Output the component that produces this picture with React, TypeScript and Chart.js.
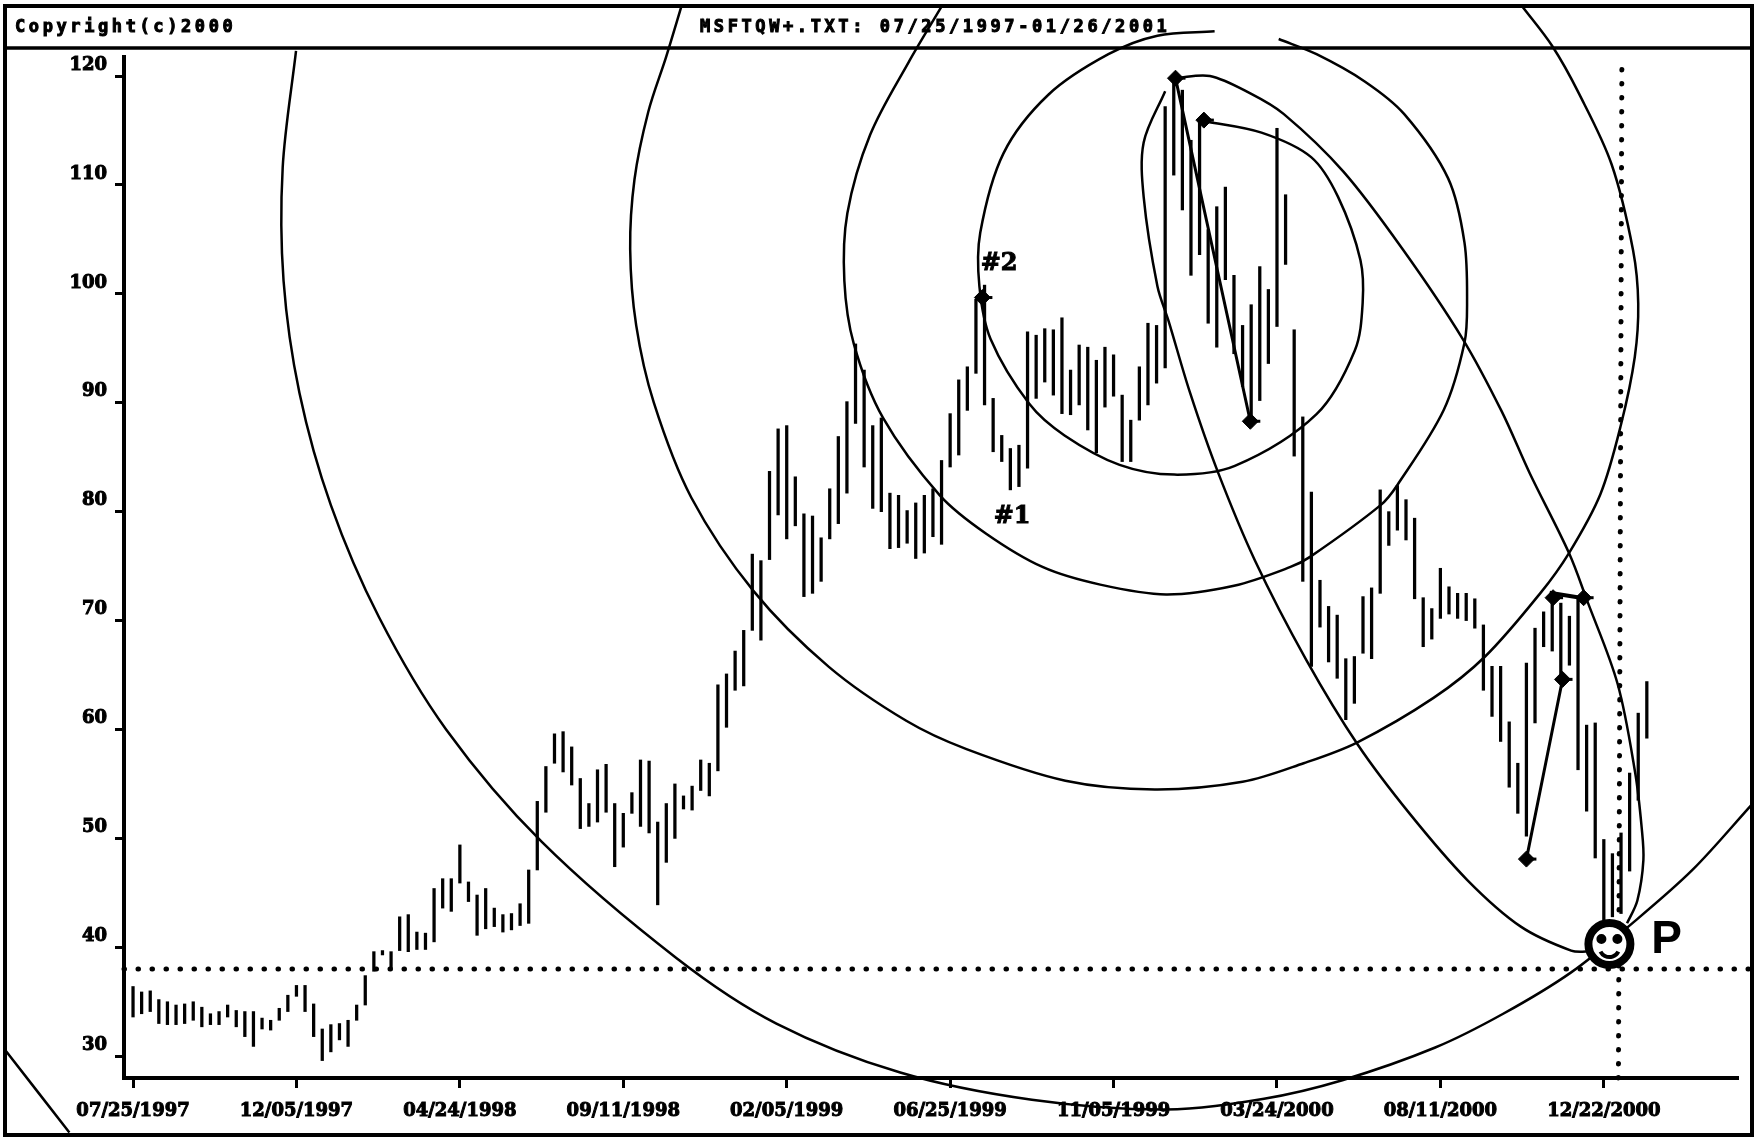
import React, { useEffect, useRef } from "react";
import { Chart, registerables } from "chart.js";

Chart.register(...registerables);

const headerLeft = "Copyright(c)2000";
const headerCenter = "MSFTQW+.TXT: 07/25/1997-01/26/2001";
const xTickBars = [0, 19, 38, 57, 76, 95, 114, 133, 152, 171];
const xTickLabels = ["07/25/1997", "12/05/1997", "04/24/1998", "09/11/1998", "02/05/1999", "06/25/1999", "11/05/1999", "03/24/2000", "08/11/2000", "12/22/2000"];
const yTickValues = [30, 40, 50, 60, 70, 80, 90, 100, 110, 120];

const highs = [
  36.4, 35.9, 36.0, 35.2, 35.0, 34.7, 34.8, 35.0, 34.5, 33.9,
  34.1, 34.7, 34.2, 34.1, 34.1, 33.5, 33.3, 34.4, 35.6, 36.5,
  36.5, 34.8, 32.5, 32.9, 33.0, 33.3, 34.7, 37.4, 39.6, 39.7,
  39.6, 42.8, 43.0, 41.4, 41.3, 45.4, 46.3, 46.3, 49.4, 46.0,
  44.8, 45.4, 43.6, 43.0, 43.1, 44.0, 47.1,
  53.4, 56.6, 59.6, 59.8, 58.4, 55.5, 53.2, 56.3, 56.8, 53.2,
  52.3, 54.2, 57.2, 57.1, 51.5, 53.2, 55.0, 53.9, 54.8, 57.2,
  56.9, 64.1, 65.1, 67.2, 69.1, 76.1, 75.5, 83.7, 87.6, 87.9,
  83.2, 79.8, 79.6, 77.6, 82.1, 86.9, 90.1, 95.4, 93.0, 87.9,
  88.6, 81.7, 81.5, 80.1, 80.8, 81.5, 82.1, 84.7, 89.0, 92.1,
  93.3, 99.5, 100.8, 90.4, 87.0, 85.8, 86.1, 96.5, 96.2, 96.8,
  96.7, 97.8, 93.0, 95.3, 95.1, 93.9, 95.1, 94.4, 90.7, 88.4,
  93.3, 97.3, 97.1, 117.2, 119.6, 118.7, 114.1, 116.0, 105.9, 108.0,
  109.8, 101.7, 97.1, 99.0, 102.5, 100.4, 115.2, 109.1, 96.7, 88.7,
  81.8, 73.7, 71.3, 70.5, 66.5, 66.7, 72.2, 73.0, 82.0, 80.0,
  82.4, 81.1, 79.4, 72.1, 71.1, 74.8, 73.1, 72.5, 72.5, 72.0,
  69.6, 65.8, 65.8, 60.7, 56.9, 66.1, 69.3, 70.8, 71.6, 71.6,
  70.4, 72.2, 60.4, 60.6, 49.9, 48.6, 50.5, 56.0, 61.5, 64.4,
];
const lows = [
  33.6, 33.9, 34.1, 33.0, 32.9, 32.9, 33.0, 33.3, 32.7, 32.9,
  32.9, 33.6, 32.7, 31.8, 30.9, 32.5, 32.4, 33.3, 34.1, 35.5,
  34.1, 31.8, 29.6, 30.4, 31.5, 30.9, 33.3, 34.7, 37.8, 39.3,
  38.1, 39.7, 39.6, 39.8, 39.8, 40.5, 43.6, 43.3, 45.9, 44.2,
  41.1, 41.7, 41.9, 41.4, 41.6, 42.0, 42.2,
  47.1, 52.4, 56.9, 56.1, 54.9, 50.9, 51.1, 51.5, 52.4, 47.4,
  49.2, 52.3, 51.1, 50.5, 43.9, 47.8, 50.0, 52.7, 52.6, 54.4,
  53.9, 56.2, 60.2, 63.6, 64.0, 69.1, 68.2, 75.6, 79.7, 77.5,
  78.7, 72.2, 72.5, 73.6, 77.5, 78.9, 81.7, 88.1, 84.1, 80.3,
  80.0, 76.6, 76.7, 77.1, 75.7, 76.2, 77.7, 77.0, 84.1, 85.2,
  89.3, 92.7, 89.8, 85.5, 84.6, 82.0, 82.3, 84.0, 90.4, 91.9,
  90.7, 89.0, 88.9, 89.8, 87.5, 85.4, 89.6, 90.6, 84.6, 84.6,
  88.4, 89.8, 91.8, 93.2, 110.9, 107.7, 101.7, 103.6, 97.3, 95.1,
  101.3, 94.5, 91.5, 87.8, 90.2, 93.6, 97.0, 102.7, 85.1, 73.6,
  65.8, 69.4, 66.2, 64.7, 60.9, 62.4, 67.0, 66.5, 72.5, 76.9,
  78.3, 77.4, 72.0, 67.6, 68.3, 70.2, 70.6, 70.2, 70.0, 69.3,
  63.6, 61.2, 58.9, 54.7, 52.3, 50.2, 60.6, 67.6, 67.2, 64.5,
  65.9, 56.3, 52.5, 48.2, 42.5, 42.8, 43.1, 47.0, 53.5, 59.2,
];

const arcOuter = [[18.95,122.3],[17.4,111.6],[17.5,101.2],[19.35,90.9],[23,80.6],[28.6,70.3],[36.4,60],[47.5,49.7],[63.2,39],[74.8,33],[89.2,28.5],[104.5,26],[120.1,25.1],[131.5,26.1],[140.6,27.8],[151.4,30.8],[159.3,33.9],[167.2,37.7],[174.3,42.2],[181.3,47.1],[188.2,53.1]];
const arcThird = [[63.8,126.5],[62,121.8],[59.9,116.7],[58.3,110.5],[57.8,104.1],[58.5,97.1],[60.55,90],[64.9,81.3],[72.15,72.7],[80.9,65.75],[89.9,60.8],[96.9,58.2],[108.4,55.3],[118.8,54.5],[129,55.2],[136.1,56.9],[142.3,58.8],[151.2,62.9],[157.2,66.7],[163.6,72.5],[166.95,76.2],[170.6,81.6],[173,88],[174.6,94.2],[175,99.1],[174.4,104],[171.9,111.9],[168.1,118.4],[165,122.75],[161.5,126.4]];
const arcSecond = [[94.1,126.5],[90.2,121.3],[85.7,114.6],[83.05,107.4],[82.7,101.2],[83.8,95.4],[87.2,88.6],[93.8,81.5],[99.15,78],[105.8,74.9],[112.45,73.3],[120.1,72.4],[128,73.2],[134.5,74.9],[136.85,75.85],[145.05,80.6],[147,82.45],[152.4,89.35],[154.8,95.5],[155.1,99.15],[154.8,104.7],[152.9,110.6],[147.8,116.5],[143.2,119.5],[137.6,122],[133.2,123.4]];
const arcFirst = [[124.6,115.85],[131.2,114.8],[136.97,112.55],[140.1,108.9],[142.7,103.1],[142.96,99.15],[142.05,94.8],[137.6,88.95],[128.1,84.2],[121.05,83.4],[114.7,84.3],[108.3,87],[104.2,89.9],[99.7,95.85],[98.4,100.7],[98.5,105.6],[101.2,112.9],[106.45,118.3],[113.4,122],[119.1,123.7],[125.75,124.1]];
const arcSweepRight = [[121.2,119.8],[125.2,120],[129.9,118.4],[133.8,116.5],[140.75,111.2],[147.7,104],[154.6,95.85],[159.1,89.25],[162.4,83.5],[166.95,76.2],[169.05,71.85],[172.6,64.2],[174.65,56],[175.4,51],[175.6,48],[174.9,44.3],[173.7,42.2]];
const arcSweepLeft = [[120,118.6],[117.5,113.9],[117.5,108.9],[119.1,100.7],[120.4,97.5],[122.9,90.9],[126.1,83.7],[130.45,75.5],[136.4,66.4],[142.4,58.6],[148.45,52.25],[155.1,46.2],[161.35,41.9],[167.2,39.7],[169.2,39.6]];
const cornerCut = [[-14.8,30.5],[-7.4,23]];

const swingDown = [[121.2,119.8],[129.9,88.3]];
const swingUp = [[162,48.1],[166.2,64.6]];
const swingFlat = [[164.7,72.55],[168.65,72.05]];
const swingMarks = [[121.2,119.8],[124.5,115.95],[129.9,88.3],[98.75,99.66],[162,48.1],[166.2,64.6],[165.1,72.1],[168.65,72.1]];

const levelPrice = 38;
const levelLine = [[-1.05,levelPrice],[188.2,levelPrice]];
const timeLine = [[172.7,28],[173.1,121.1]];

const notes = [
  { text: "#2", bar: 100.7, price: 102.8, size: 24 },
  { text: "#1", bar: 102.2, price: 79.5, size: 24 },
];
const pivotLabel = { text: "P", bar: 176.5, price: 39.5 };
const pivotFace = { bar: 171.65, price: 40.3 };

const toPoints = (rows: number[][]) => rows.map(([x, y]) => ({ x, y }));
const curve = (rows: number[][], width = 2.5) => ({
  type: "scatter" as const,
  data: toPoints(rows),
  showLine: true,
  borderColor: "#000",
  borderWidth: width,
  pointRadius: 0,
  tension: 0.33,
  clip: false as any,
});
const dotted = (rows: number[][]) => ({
  type: "scatter" as const,
  data: toPoints(rows),
  showLine: true,
  borderColor: "#000",
  borderWidth: 5,
  borderDash: [0.5, 13.5],
  borderCapStyle: "round" as const,
  pointRadius: 0,
  clip: false as any,
});

const framePlugin = {
  id: "frame",
  beforeDraw(chart: any) {
    const { ctx, width, height } = chart;
    ctx.save();
    ctx.fillStyle = "#fff";
    ctx.fillRect(0, 0, width, height);
    ctx.restore();
  },
  afterDraw(chart: any) {
    const { ctx } = chart;
    ctx.save();
    ctx.strokeStyle = "#000";
    ctx.lineWidth = 4;
    ctx.strokeRect(5, 6, 1747, 1129);
    ctx.lineWidth = 3.5;
    ctx.beginPath();
    ctx.moveTo(5, 48);
    ctx.lineTo(1752, 48);
    ctx.stroke();
    ctx.fillStyle = "#000";
    ctx.font = 'bold 17px "DejaVu Sans Mono"';
    (ctx as any).letterSpacing = "3.6px";
    ctx.textBaseline = "middle";
    ctx.textAlign = "left";
    ctx.lineWidth = 1;
    ctx.fillText(headerLeft, 15, 28);
    ctx.strokeText(headerLeft, 15, 28);
    ctx.fillText(headerCenter, 700, 28);
    ctx.strokeText(headerCenter, 700, 28);
    (ctx as any).letterSpacing = "0px";
    ctx.restore();
  },
};

const notesPlugin = {
  id: "notes",
  afterDatasetsDraw(chart: any) {
    const { ctx, scales } = chart;
    const { x, y } = scales;
    ctx.save();
    ctx.fillStyle = "#000";
    ctx.strokeStyle = "#000";
    ctx.textAlign = "center";
    ctx.textBaseline = "middle";
    ctx.lineWidth = 1;
    for (const n of notes) {
      ctx.font = `bold ${n.size}px "DejaVu Serif"`;
      ctx.fillText(n.text, x.getPixelForValue(n.bar), y.getPixelForValue(n.price));
      ctx.strokeText(n.text, x.getPixelForValue(n.bar), y.getPixelForValue(n.price));
    }
    ctx.font = 'bold 46px "Liberation Sans"';
    ctx.textAlign = "left";
    ctx.textBaseline = "alphabetic";
    ctx.fillText(pivotLabel.text, x.getPixelForValue(pivotLabel.bar), y.getPixelForValue(pivotLabel.price));

    const cx = x.getPixelForValue(pivotFace.bar);
    const cy = y.getPixelForValue(pivotFace.price);
    ctx.beginPath();
    ctx.arc(cx, cy, 23, 0, Math.PI * 2);
    ctx.fillStyle = "#fff";
    ctx.fill();
    ctx.lineWidth = 8;
    ctx.strokeStyle = "#000";
    ctx.beginPath();
    ctx.arc(cx, cy, 21, 0, Math.PI * 2);
    ctx.stroke();
    ctx.fillStyle = "#000";
    ctx.beginPath();
    ctx.arc(cx - 8, cy - 5, 5, 0, Math.PI * 2);
    ctx.arc(cx + 8, cy - 5, 5, 0, Math.PI * 2);
    ctx.fill();
    ctx.lineWidth = 4;
    ctx.beginPath();
    ctx.arc(cx, cy + 3, 10, 0.15 * Math.PI, 0.85 * Math.PI);
    ctx.stroke();
    ctx.restore();
  },
};

export default function App() {
  const ref = useRef<HTMLCanvasElement | null>(null);
  useEffect(() => {
    const chart = new Chart(ref.current as HTMLCanvasElement, {
      type: "bar",
      data: {
        datasets: [
          {
            type: "bar" as const,
            data: highs.map((h, i) => ({ x: i, y: [lows[i], h] })) as any,
            backgroundColor: "#000",
            barThickness: 2.6,
          },
          curve(arcOuter),
          curve(arcThird),
          curve(arcSecond),
          curve(arcFirst),
          curve(arcSweepRight),
          curve(arcSweepLeft),
          curve(cornerCut),
          curve(swingDown, 3),
          curve(swingUp, 3),
          curve(swingFlat, 4),
          dotted(levelLine),
          dotted(timeLine),
          {
            type: "scatter" as const,
            data: toPoints(swingMarks),
            pointStyle: "rectRot",
            pointRadius: 8,
            backgroundColor: "#000",
            borderColor: "#000",
            clip: false as any,
          },
          {
            type: "scatter" as const,
            data: toPoints(swingMarks),
            pointStyle: "dash",
            pointRadius: 10,
            borderWidth: 3,
            borderColor: "#000",
            clip: false as any,
          },
        ] as any,
      },
      options: {
        responsive: false,
        animation: false,
        events: [],
        devicePixelRatio: 1,
        layout: { padding: { left: 0, right: 18, top: 57, bottom: 0 } },
        plugins: { legend: { display: false }, tooltip: { enabled: false } },
        scales: {
          x: {
            type: "linear",
            offset: false,
            min: -1.05,
            max: 186.6,
            grid: { offset: false, drawOnChartArea: false, drawTicks: true, tickLength: 10, tickWidth: 3, tickColor: "#000" },
            border: { display: true, color: "#000", width: 4 },
            afterBuildTicks: (s: any) => { s.ticks = xTickBars.map((value) => ({ value })); },
            afterFit: (s: any) => { s.height = 62; },
            ticks: {
              autoSkip: false,
              maxRotation: 0,
              minRotation: 0,
              padding: 13,
              color: "#000",
              textStrokeColor: "#000",
              textStrokeWidth: 1,
              font: { family: '"DejaVu Serif"', size: 18, weight: "bold" },
              callback: (_v: any, i: number) => xTickLabels[i],
            },
          },
          y: {
            type: "linear",
            min: 28,
            max: 121.745,
            grid: { drawOnChartArea: false, drawTicks: true, tickLength: 9, tickWidth: 3, tickColor: "#000" },
            border: { display: true, color: "#000", width: 4 },
            afterBuildTicks: (s: any) => { s.ticks = yTickValues.map((value) => ({ value })); },
            afterFit: (s: any) => { s.width = 124; },
            ticks: {
              autoSkip: false,
              padding: 8,
              labelOffset: -11,
              color: "#000",
              textStrokeColor: "#000",
              textStrokeWidth: 1,
              font: { family: '"DejaVu Serif"', size: 18, weight: "bold" },
              callback: (v: any) => String(v),
            },
          },
        },
      } as any,
      plugins: [framePlugin, notesPlugin],
    });
    return () => chart.destroy();
  }, []);
  return (
    <div style={{ position: "fixed", left: 0, top: 0, width: 1756, height: 1140, background: "#fff" }}>
      <canvas ref={ref} width={1756} height={1140} style={{ display: "block" }} />
    </div>
  );
}
